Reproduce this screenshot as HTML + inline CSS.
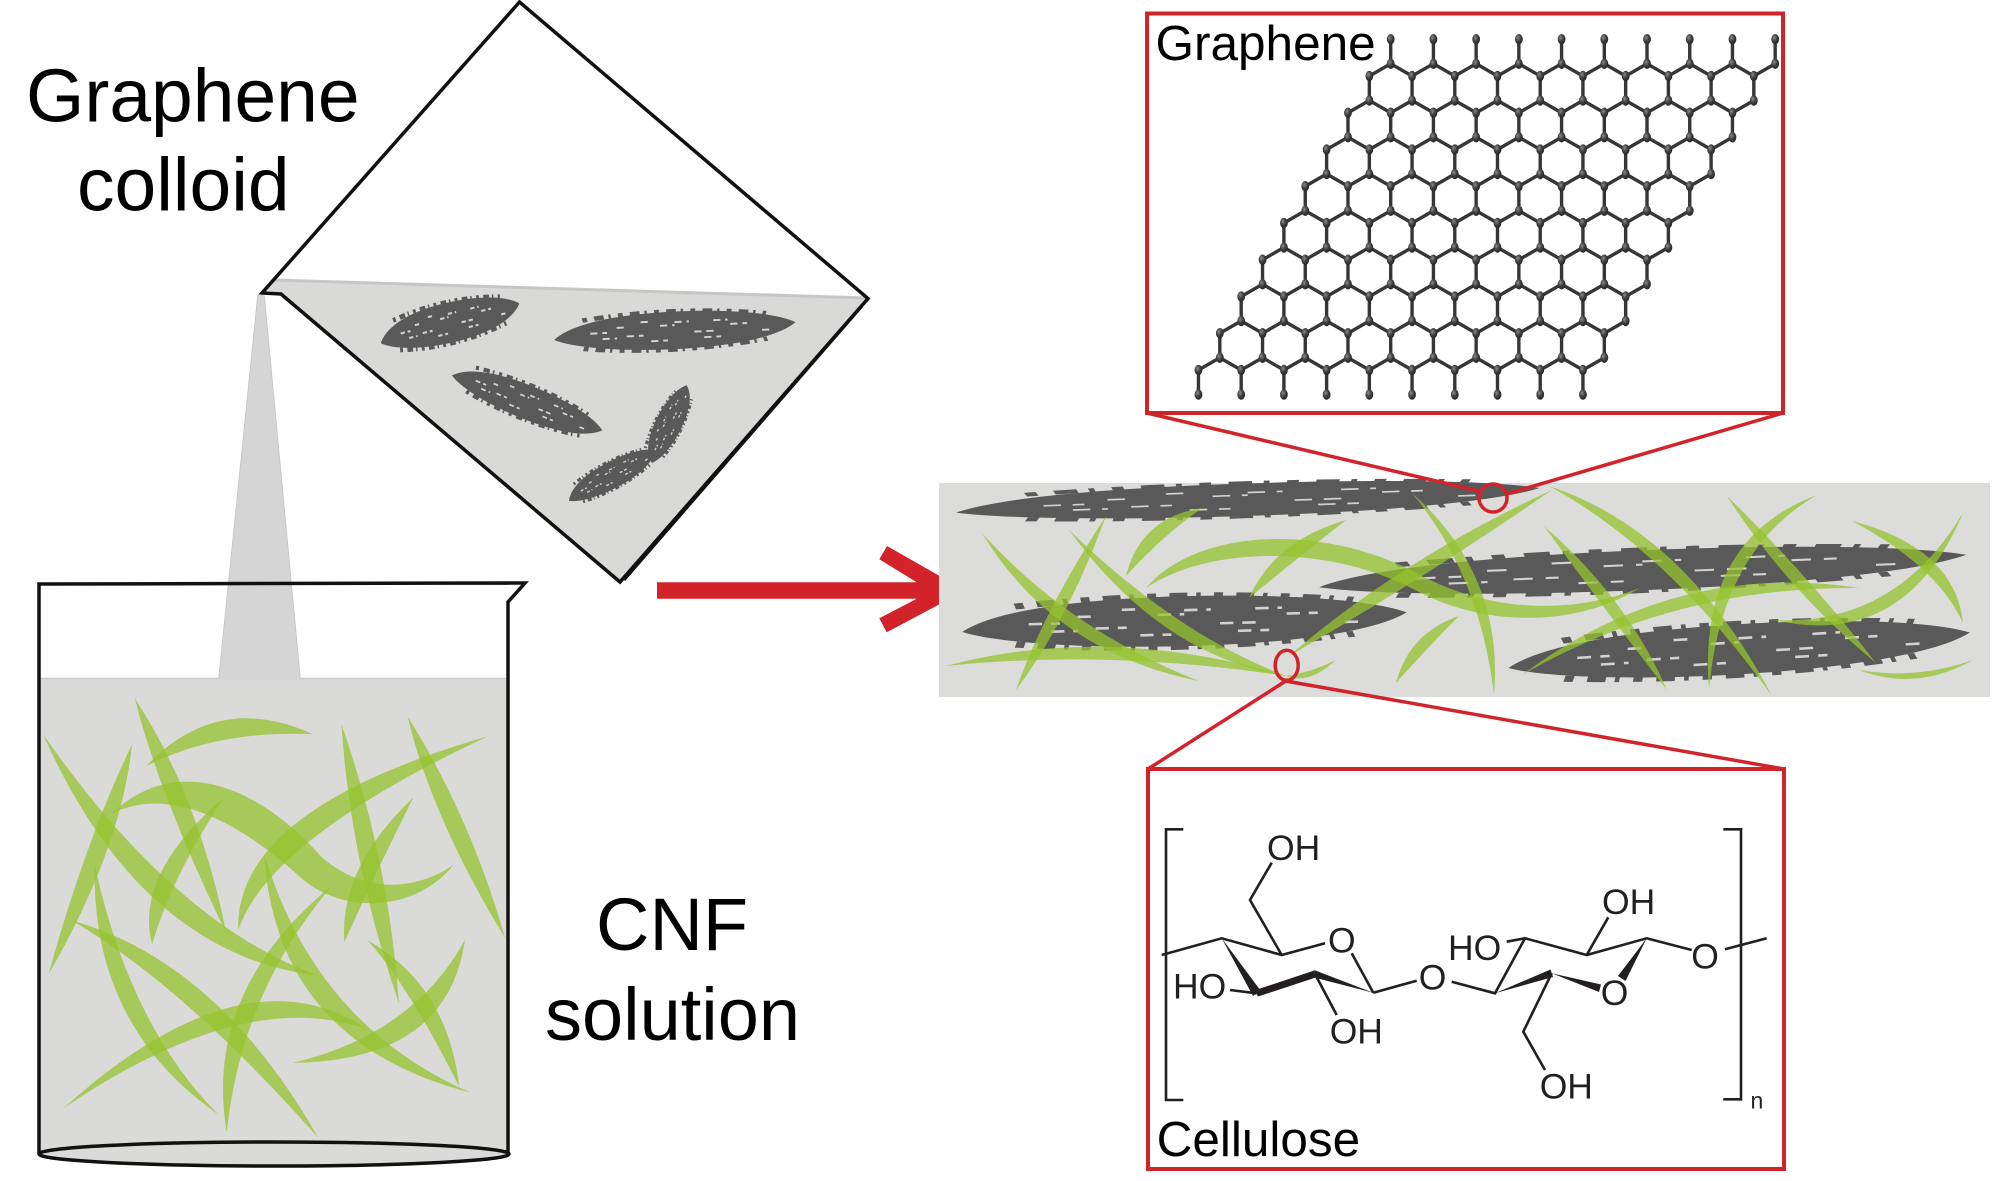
<!DOCTYPE html>
<html><head><meta charset="utf-8"><style>
html,body{margin:0;padding:0;background:#fff;}
svg{display:block;}
text{font-family:"Liberation Sans",Arial,sans-serif;}
</style></head><body>
<svg width="2008" height="1181" viewBox="0 0 2008 1181" xmlns="http://www.w3.org/2000/svg" xmlns:xlink="http://www.w3.org/1999/xlink">
<defs>
<radialGradient id="ag" cx="0.38" cy="0.35" r="0.7">
<stop offset="0" stop-color="#8a8a8a"/><stop offset="0.5" stop-color="#404040"/><stop offset="1" stop-color="#222"/>
</radialGradient>
<g id="sm">
<path fill="#595959" d="M0,2 C8,-9 28,-13 50,-13 C72,-13 92,-9 100,-2 C92,8 72,12 50,12 C28,12 8,8 0,2 Z"/>
<path fill="none" stroke="#595959" stroke-width="3" stroke-dasharray="2 3 4 2 1 3" d="M12,-10 Q50,-17 88,-9 M12,9 Q50,16 88,8"/>
<path fill="none" stroke="#d2d2d2" stroke-width="1.3" stroke-dasharray="3 2 6 3" d="M15,-1 H22 M30,2 H37 M44,-4 H50 M58,1 H66 M73,-3 H80 M86,2 H90 M36,-7 H41 M62,5 H69 M20,3 H26 M50,-6 H56 M40,6 H47 M66,-6 H72 M26,-4 H31"/>
</g>
<g id="u"><path d="M0,0V24.5L-21.36,36.75M0,24.5L21.36,36.75" stroke="#363636" stroke-width="3.4" fill="none"/><ellipse cx="0" cy="0" rx="3.9" ry="5.2" fill="url(#ag)"/><ellipse cx="0" cy="24.5" rx="3.9" ry="5.2" fill="url(#ag)"/></g>
<g id="uL"><path d="M0,0V24.5L-21.36,36.75" stroke="#363636" stroke-width="3.4" fill="none"/><ellipse cx="0" cy="0" rx="3.9" ry="5.2" fill="url(#ag)"/><ellipse cx="0" cy="24.5" rx="3.9" ry="5.2" fill="url(#ag)"/></g>
<g id="uT"><path d="M0,0V24.5" stroke="#363636" stroke-width="3.4" fill="none"/><ellipse cx="0" cy="0" rx="3.9" ry="5.2" fill="url(#ag)"/><ellipse cx="0" cy="24.5" rx="3.9" ry="5.2" fill="url(#ag)"/></g>
<g id="row">
<use href="#u" x="0"/><use href="#u" x="42.72"/><use href="#u" x="85.44"/><use href="#u" x="128.16"/><use href="#u" x="170.88"/><use href="#u" x="213.6"/><use href="#u" x="256.32"/><use href="#u" x="299.04"/><use href="#u" x="341.76"/><use href="#uL" x="384.48"/>
</g>
<g id="rowT">
<use href="#uT" x="0"/><use href="#uT" x="42.72"/><use href="#uT" x="85.44"/><use href="#uT" x="128.16"/><use href="#uT" x="170.88"/><use href="#uT" x="213.6"/><use href="#uT" x="256.32"/><use href="#uT" x="299.04"/><use href="#uT" x="341.76"/><use href="#uT" x="384.48"/>
</g>
</defs>

<rect width="2008" height="1181" fill="#fff"/>

<!-- Titles -->
<text x="26" y="121.7" font-size="75" fill="#000">Graphene</text>
<text x="77" y="210.5" font-size="75" fill="#000">colloid</text>
<text x="596" y="950" font-size="74" fill="#000">CNF</text>
<text x="545" y="1040" font-size="74" fill="#000">solution</text>

<!-- Stream -->
<polygon points="258,296 264,296 300,679 219,679" fill="#d5d5d5" stroke="#c2c2c2" stroke-width="1.5"/>

<!-- Beaker -->
<rect x="40" y="678" width="468" height="476" fill="#dadad9"/>
<line x1="41" y1="678.5" x2="507" y2="678.5" stroke="#cbcbcb" stroke-width="1.5"/>
<polygon points="258,296 264,296 300,679 219,679" fill="#d5d5d5"/>
<g transform="translate(0,560) scale(0.574,0.396)" fill="#96c32d" fill-opacity="0.75">
<path d="M75,440 Q245,995 555,1050 Q305,920 75,440Z"/>
<path d="M230,465 Q145,725 85,1045 Q212,725 230,465Z"/>
<path d="M235,350 Q345,592 395,945 Q277,592 235,350Z"/>
<path d="M255,520 Q380,330 545,440 Q380,429 255,520Z"/>
<path d="M195,640 C320,470 470,600 560,750 C640,850 730,830 790,770 C730,880 610,900 530,810 C440,690 310,560 195,640 Z"/>
<path d="M390,600 Q233,795 265,970 Q301,795 390,600Z"/>
<path d="M595,415 Q610,760 695,1120 Q678,760 595,415Z"/>
<path d="M710,395 Q820,650 880,955 Q752,650 710,395Z"/>
<path d="M850,445 Q408,630 415,935 Q468,705 850,445Z"/>
<path d="M720,600 Q590,778 600,965 Q658,778 720,600Z"/>
<path d="M460,740 Q480,1218 820,1345 Q548,1173 460,740Z"/>
<path d="M580,820 Q353,1088 395,1445 Q421,1088 580,820Z"/>
<path d="M165,770 Q158,1175 380,1400 Q226,1175 165,770Z"/>
<path d="M125,910 Q320,1075 555,1460 Q380,1015 125,910Z"/>
<path d="M110,1385 Q425,975 640,1185 Q425,1074 110,1385Z"/>
<path d="M640,960 Q780,1075 800,1330 Q712,1075 640,960Z"/>
<path d="M810,960 Q780,1265 510,1270 Q720,1197 810,960Z"/>
</g>
<ellipse cx="274" cy="1154" rx="235" ry="12" fill="#dadad9" stroke="#111" stroke-width="3.5"/>
<path d="M39,1154 V584 L525,583 L508,602 V1154" fill="none" stroke="#111" stroke-width="3.5" stroke-linejoin="miter"/>

<!-- Pitcher -->
<polygon points="273,280 868,298 620,582 281,294 262,293" fill="#d9d9d8"/>
<line x1="273" y1="280" x2="868" y2="298" stroke="#c6c6c6" stroke-width="3"/>
<use href="#sm" transform="translate(380,340) rotate(-13.4) scale(1.44,1.6)"/>
<use href="#sm" transform="translate(554,337) rotate(-2.8) scale(2.42,1.5)"/>
<use href="#sm" transform="translate(453,373) rotate(22) scale(1.6,1.35)"/>
<use href="#sm" transform="translate(568,499) rotate(-28) scale(1.0,1.05)"/>
<use href="#sm" transform="translate(650,462) rotate(-63) scale(0.85,1.05)"/>
<polygon points="868,298 620,582 626,578 862,306" fill="#e4e4e4"/>
<path d="M281,294 L262,293 L519.5,2 L868,298.5 L620,582 Z" fill="none" stroke="#111" stroke-width="3.5" stroke-linejoin="miter"/>
<line x1="862" y1="306" x2="624" y2="580" stroke="#111" stroke-width="3"/>

<!-- Arrow -->
<polygon points="887,546 946.7,580 955,596 886.7,632.3 879.3,618.3 916.7,598.7 657,598.7 657,582.3 916.7,582.3 879.3,559.3" fill="#d2232a"/>

<!-- Band -->
<rect x="939" y="483" width="1051" height="214" fill="#dcdcdb"/>
<use href="#sm" transform="translate(956,510) rotate(-1.9) scale(5.84,1.3)"/>
<use href="#sm" transform="translate(962,628) rotate(-1.5) scale(4.45,2.0)"/>
<use href="#sm" transform="translate(1319,584) rotate(-2.3) scale(6.48,1.6)"/>
<use href="#sm" transform="translate(1508,664) rotate(-3.4) scale(4.63,2.0)"/>
<g fill="#96c32d" fill-opacity="0.75">
<path d="M982,533 Q1054,652 1199,681 Q1069,630 982,533Z"/>
<path d="M1106,516 Q1044,610 1016,690 Q1067,622 1106,516Z"/>
<path d="M1069,530 Q1161,656 1286,676 Q1176,634 1069,530Z"/>
<path d="M946,666 Q1106,623 1287,676 Q1106,649 946,666Z"/>
<path d="M1286,676 Q1309,673 1336,660 Q1309,685 1286,676Z"/>
<path d="M1126,576 Q1141,517 1202,508 Q1161,537 1126,576Z"/>
<path d="M1146,588 C1200,525 1330,525 1420,575 C1490,612 1570,615 1640,588 C1570,630 1480,625 1415,590 C1330,545 1210,545 1146,588Z"/>
<path d="M1249,598 Q1274,541 1346,520 Q1294,561 1249,598Z"/>
<path d="M1289,656 Q1400,560 1552,490 Q1417,583 1289,656Z"/>
<path d="M1396,683 Q1409,633 1459,616 Q1429,646 1396,683Z"/>
<path d="M1412,493 Q1480,575 1494,695 Q1504,575 1412,493Z"/>
<path d="M1549,486 Q1667,550 1772,696 Q1685,531 1549,486Z"/>
<path d="M1544,526 Q1605,610 1667,690 Q1627,598 1544,526Z"/>
<path d="M1522,675 Q1676,560 1859,588 Q1676,586 1522,675Z"/>
<path d="M1817,495 Q1697,540 1709,690 Q1721,550 1817,495Z"/>
<path d="M1727,496 Q1787,590 1876,663 Q1807,574 1727,496Z"/>
<path d="M1963,513 Q1905,650 1774,620 Q1895,626 1963,513Z"/>
<path d="M1852,521 Q1955,548 1963,623 Q1937,566 1852,521Z"/>
<path d="M1973,660 Q1916,680 1859,670 Q1916,692 1973,660Z"/>
</g>

<!-- Connectors -->
<g stroke="#d2232a" stroke-width="3.5" fill="none">
<line x1="1147" y1="413" x2="1481.6" y2="491.7"/>
<line x1="1783" y1="413" x2="1505.4" y2="494.3"/>
<ellipse cx="1493" cy="498" rx="14" ry="14"/>
<line x1="1285.7" y1="681" x2="1148" y2="769"/>
<line x1="1285.7" y1="681" x2="1784" y2="769"/>
<ellipse cx="1286.7" cy="665.3" rx="11.5" ry="15"/>
</g>

<!-- Graphene box -->
<rect x="1147" y="13.5" width="636" height="399.5" fill="#fff" stroke="#d2232a" stroke-width="4"/>
<text x="1155.5" y="60" font-size="49.5" fill="#000">Graphene</text>
<use href="#row" x="1390.7" y="39.25"/>
<use href="#row" x="1369.34" y="76"/>
<use href="#row" x="1347.98" y="112.75"/>
<use href="#row" x="1326.62" y="149.5"/>
<use href="#row" x="1305.26" y="186.25"/>
<use href="#row" x="1283.9" y="223"/>
<use href="#row" x="1262.54" y="259.75"/>
<use href="#row" x="1241.18" y="296.5"/>
<use href="#row" x="1219.82" y="333.25"/>
<use href="#rowT" x="1198.46" y="370"/>

<!-- Cellulose box -->
<rect x="1148" y="769" width="636" height="400" fill="#fff" stroke="#d2232a" stroke-width="4"/>
<text x="1156.6" y="1156" font-size="49.5" fill="#000">Cellulose</text>
<g stroke="#231f20" stroke-width="2.6" fill="none" stroke-linecap="butt">
<path d="M1183.3,829.3 H1166 V1100 H1183.3"/>
<path d="M1723.3,829.3 H1741 V1099.3 H1723.3"/>
<path d="M1161.7,955 L1221.7,938.3 L1281.7,955 L1325,943.3"/>
<path d="M1351.7,953.3 L1373.3,992.7"/>
<path d="M1281.7,955 L1250,900 L1271.7,862.7"/>
<path d="M1230,990 L1256.7,993.3"/>
<path d="M1315,974 L1336.7,1015"/>
<path d="M1373.3,992.7 L1416.7,980.7"/>
<path d="M1451.7,981.7 L1495,993.3 L1525,938.3 L1586.7,955 L1646.7,938.3 L1691.7,950"/>
<path d="M1506.7,941.7 L1525,938.3"/>
<path d="M1586.7,955 L1608.3,917.3"/>
<path d="M1725,949.3 L1766.7,938.3"/>
<path d="M1551.7,973.3 L1523.3,1031.7 L1545,1070"/>
</g>
<g fill="#231f20">
<polygon points="1221.7,938.3 1260.5,990.5 1253,996"/>
<line x1="1256.7" y1="993.3" x2="1315" y2="974" stroke="#231f20" stroke-width="7"/>
<polygon points="1314,970 1316,978 1373.3,992.7"/>
<polygon points="1646.7,938.3 1625.5,981 1618,976"/>
<polygon points="1551.7,973.3 1601,984.5 1599,992"/>
<polygon points="1495,993.3 1550.5,969.5 1553,977"/>
</g>
<g font-size="35.5" fill="#231f20">
<text x="1267" y="860">OH</text>
<text x="1328" y="952.7">O</text>
<text x="1173" y="998.3">HO</text>
<text x="1329.7" y="1043.3">OH</text>
<text x="1418.7" y="989.3">O</text>
<text x="1448" y="960">HO</text>
<text x="1602" y="914">OH</text>
<text x="1600.7" y="1005">O</text>
<text x="1691.3" y="968.3">O</text>
<text x="1539.7" y="1098.3">OH</text>
<text x="1750.5" y="1108.3" font-size="23">n</text>
</g>
</svg>
</body></html>
